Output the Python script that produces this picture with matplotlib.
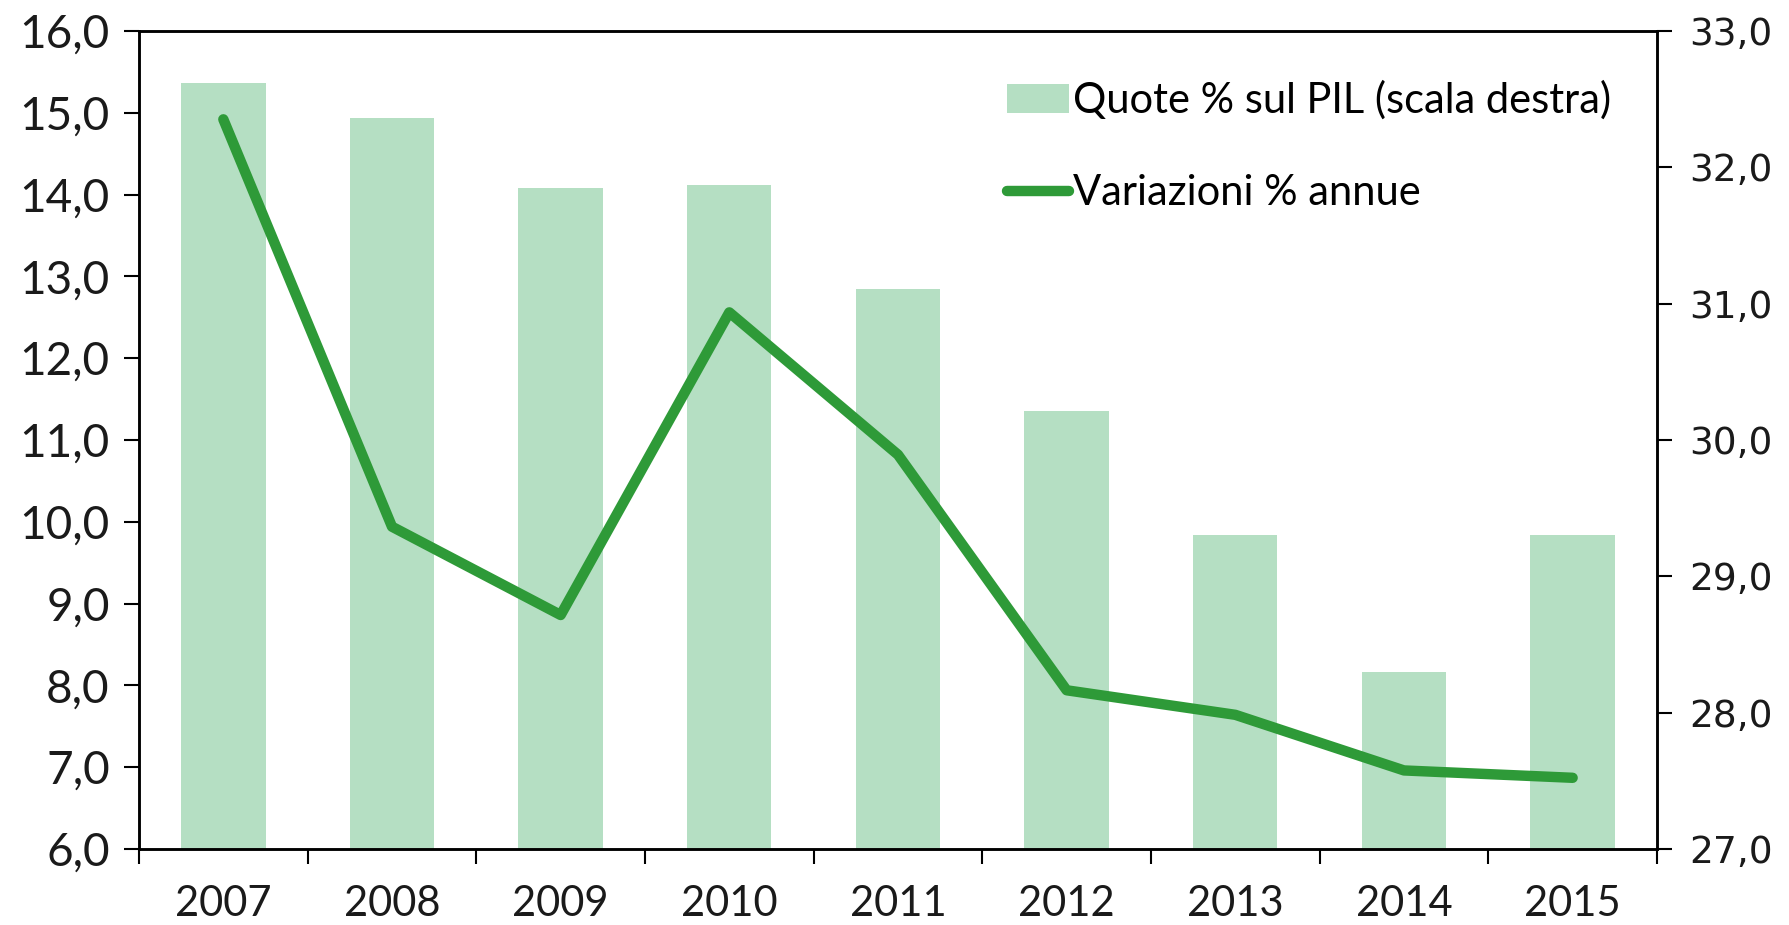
import numpy as np
import matplotlib
matplotlib.use('Agg')
import matplotlib.pyplot as plt
from matplotlib.ticker import FuncFormatter, FixedLocator

years = ['2007', '2008', '2009', '2010', '2011', '2012', '2013', '2014', '2015']
quote_pil = [32.62, 32.36, 31.85, 31.87, 31.11, 30.21, 29.30, 28.30, 29.30]
variazioni = [14.92, 9.94, 8.86, 12.56, 10.82, 7.94, 7.64, 6.96, 6.87]

bar_color = '#b5dfc3'
line_color = '#2e9a38'
label_font = ['Lato', 'DejaVu Sans']


def comma_fmt(v, pos):
    return f'{v:.1f}'.replace('.', ',')


fig = plt.figure(figsize=(17.89, 9.25), dpi=100)
ax = fig.add_axes([0.0777, 0.0822, 0.8485, 0.8843])
ax2 = ax.twinx()

x = np.arange(len(years))
bars = ax2.bar(x, quote_pil, width=0.5, color=bar_color, label='Quote % sul PIL (scala destra)')
line, = ax.plot(x, variazioni, color=line_color, linewidth=7.5, solid_capstyle='round',
                label='Variazioni % annue')

# line axis above the bars
ax.set_zorder(ax2.get_zorder() + 1)
ax.patch.set_visible(False)

ax.set_xlim(-0.5, len(years) - 0.5)
ax.set_ylim(6, 16)
ax2.set_ylim(27, 33)
ax.set_yticks(np.arange(6, 16.1, 1))
ax2.set_yticks(np.arange(27, 33.1, 1))
ax.yaxis.set_major_formatter(FuncFormatter(comma_fmt))
ax2.yaxis.set_major_formatter(FuncFormatter(comma_fmt))

# ticks between categories, labels at the centres
ax.xaxis.set_major_locator(FixedLocator(np.arange(-0.5, len(years), 1)))
ax.xaxis.set_minor_locator(FixedLocator(x))
ax.set_xticklabels([])
ax.set_xticklabels(years, minor=True)
ax.tick_params(axis='x', which='major', direction='out', length=11, width=1.5)
ax.tick_params(axis='x', which='minor', length=0, pad=26, labelsize=30)
ax.tick_params(axis='y', direction='out', length=11, width=1.5, pad=10, labelsize=33)
ax2.tick_params(axis='y', direction='out', length=11, width=1.5, pad=12, labelsize=27)

for lab in ax.get_xticklabels(minor=True) + ax.get_yticklabels():
    lab.set_family(label_font)
    lab.set_color('#1a1a1a')
for lab in ax2.get_yticklabels():
    lab.set_family('DejaVu Sans')
    lab.set_color('#1a1a1a')

for a in (ax, ax2):
    for sp in a.spines.values():
        sp.set_linewidth(1.8)
        sp.set_color('black')

leg = ax.legend([bars, line], ['Quote % sul PIL (scala destra)', 'Variazioni % annue'],
                loc='upper left', bbox_to_anchor=(0.547, 0.985), frameon=False,
                handlelength=1.5, handleheight=0.7, handletextpad=0.1,
                labelspacing=1.3, prop={'family': label_font, 'size': 30})

fig.savefig('out.png', dpi=100)
